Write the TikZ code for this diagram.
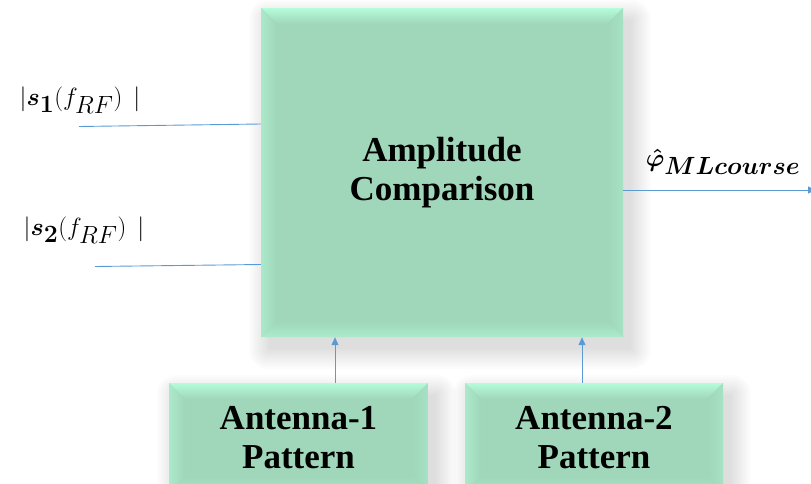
\documentclass[tikz,border=0pt]{standalone}
\usepackage{fontspec}
\setmainfont{Liberation Serif}
\newfontfamily\boxfont{Liberation Serif}
\usetikzlibrary{arrows.meta,backgrounds}
\definecolor{boxfill}{HTML}{A0D6BA}
\definecolor{bevtop}{HTML}{B4FCDA}
\definecolor{bevleft}{HTML}{ABE9CA}
\definecolor{bevright}{HTML}{A6E2C4}
\definecolor{bevbot}{HTML}{ABEBCB}
\definecolor{linec}{HTML}{5B9BD5}
\newcommand{\bsym}[1]{\mbox{\mathversion{bold}$#1$}}
\tikzset{
  bevelbox/.style={fill=boxfill, draw=none, inner sep=0pt, align=center,
    font=\boxfont\bfseries\fontsize{35}{39}\selectfont,
    path picture={
      \path (path picture bounding box.north west) coordinate (nw)
            (path picture bounding box.south east) coordinate (se);
      \path (se|-nw) coordinate (ne) (nw|-se) coordinate (sw);
      \shade[top color=bevtop, bottom color=boxfill] (nw) -- (ne) -- ([xshift=-16pt,yshift=-16pt]ne) -- ([xshift=16pt,yshift=-16pt]nw) -- cycle;
      \shade[left color=bevleft, right color=boxfill] (nw) -- (sw) -- ([xshift=16pt,yshift=16pt]sw) -- ([xshift=16pt,yshift=-16pt]nw) -- cycle;
      \shade[right color=bevright, left color=boxfill] (ne) -- (se) -- ([xshift=-16pt,yshift=16pt]se) -- ([xshift=-16pt,yshift=-16pt]ne) -- cycle;
      \shade[bottom color=bevbot, top color=boxfill] (sw) -- (se) -- ([xshift=-16pt,yshift=16pt]se) -- ([xshift=16pt,yshift=16pt]sw) -- cycle;
    }},
  conn/.style={draw=linec, line width=0.9pt},
  tip/.style={-{Triangle[length=8pt,width=7pt]}},
  mathlbl/.style={inner sep=0pt, font=\fontsize{40}{46}\selectfont},
  philbl/.style={inner sep=0pt, font=\fontsize{36}{42}\selectfont},
}
\newcommand{\softshadow}[3]{%
  \foreach \r in {0,2,...,20} {
    \fill[black, opacity=0.012, rounded corners=\r pt]
      ([xshift=#2-\r pt,yshift=#3+\r pt]#1.north west) rectangle ([xshift=#2+\r pt,yshift=#3-\r pt]#1.south east);
  }%
}
\begin{document}
\begin{tikzpicture}[x=1pt,y=-1pt]
\useasboundingbox (0,0) rectangle (811,484);
\clip (0,0) rectangle (811,484);
\node[bevelbox, minimum width=362pt, minimum height=329pt] (main) at (442,172.5) {Amplitude\\Comparison};
\node[bevelbox, minimum width=259pt, minimum height=110pt] (ant1) at (298.5,438) {Antenna-1\\Pattern};
\node[bevelbox, minimum width=258pt, minimum height=110pt] (ant2) at (594,438) {Antenna-2\\Pattern};
\begin{scope}[on background layer]
  \softshadow{main}{8pt}{-12pt}
  \softshadow{ant1}{8pt}{-12pt}
  \softshadow{ant2}{8pt}{-12pt}
\end{scope}
\coordinate (a1) at (335,0);
\coordinate (a2) at (582,0);
\draw[conn,tip] (a1|-ant1.north) -- (a1|-main.south);
\draw[conn,tip] (a2|-ant2.north) -- (a2|-main.south);
\coordinate (in1) at (79,126.5);
\coordinate (in2) at (95,266.5);
\coordinate (out) at (816,190);
\draw[conn] (in1) -- ([yshift=48.5pt]main.west);
\draw[conn] (in2) -- ([yshift=-92pt]main.west);
\draw[conn,tip] ([yshift=-17.5pt]main.east) -- (out);
\node[mathlbl] (l1) at (80,100) {$|$\bsym{s_{1}}$(f_{RF})\;\,|$};
\node[mathlbl] (l2) at (84,230) {$|$\bsym{s_{2}}$(f_{RF})\;\,|$};
\node[philbl] (phi) at (723,162) {\bsym{\hat{\varphi}_{MLcourse}}};
\end{tikzpicture}
\end{document}
